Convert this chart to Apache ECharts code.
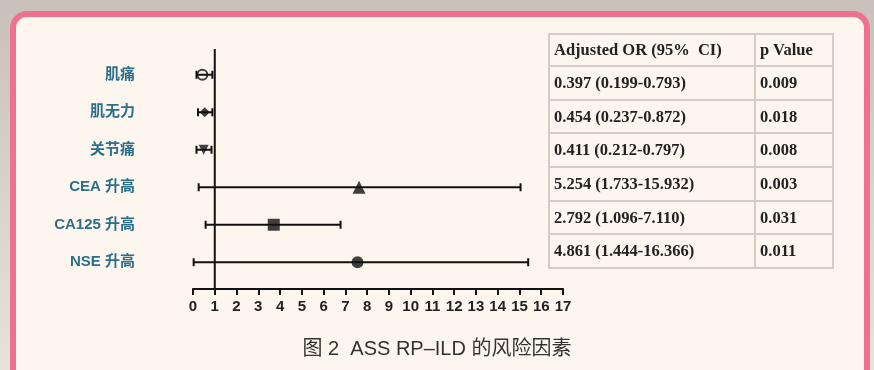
<!DOCTYPE html>
<html>
<head>
<meta charset="utf-8">
<script src="https://cdn.jsdelivr.net/npm/echarts@6/dist/echarts.min.js"></script>
<style>
  html, body { margin: 0; padding: 0; }
  body { width: 874px; height: 370px; overflow: hidden; position: relative;
         background: linear-gradient(180deg, #c9c0b9 0%, #d6cfc6 40%, #e8e2d8 100%); }
  #frame { position: absolute; left: 10px; top: 11px; width: 848px; height: 400px;
           border: 6px solid #ee7190; border-radius: 17px; background: #fdf6ee; }
  #chart { position: absolute; left: 0; top: 0; width: 874px; height: 370px; }
  #tbl { position: absolute; left: 548px; top: 33px; border-collapse: collapse;
         font-family: "Liberation Serif", "DejaVu Serif", serif; font-weight: bold;
         font-size: 16.5px; color: #222; }
  #tbl td { border: 2px solid #d3cdc6; padding: 0 0 0 4px; height: 30px; white-space: pre; }
  #tbl td.c1 { width: 200px; }
  #tbl td.c2 { width: 72px; }
</style>
</head>
<body>
<div id="frame"></div>
<div id="chart"></div>
<table id="tbl"></table>
<script>
// ---- data ----
const categories = ['肌痛', '肌无力', '关节痛', 'CEA 升高', 'CA125 升高', 'NSE 升高'];
const estimates = [0.43, 0.54, 0.49, 7.63, 3.71, 7.56];
const lowerCI   = [0.16, 0.23, 0.16, 0.26, 0.58, 0.03];
const upperCI   = [0.89, 0.89, 0.85, 15.05, 6.78, 15.40];
const markerSymbols = ['circle', 'diamond', 'triangle', 'triangle', 'rect', 'circle'];
const xTicks = [0, 17, 1];
const tableHeader = ['Adjusted OR (95%  CI)', 'p Value'];
const orText = ['0.397 (0.199-0.793)', '0.454 (0.237-0.872)', '0.411 (0.212-0.797)',
                '5.254 (1.733-15.932)', '2.792 (1.096-7.110)', '4.861 (1.444-16.366)'];
const pText = ['0.009', '0.018', '0.008', '0.003', '0.031', '0.011'];
const titleText = '图 2  ASS RP–ILD 的风险因素';

// ---- table ----
const tbl = document.getElementById('tbl');
function addRow(a, b, h) {
  const tr = document.createElement('tr');
  const td1 = document.createElement('td'); td1.className = 'c1'; td1.textContent = a;
  const td2 = document.createElement('td'); td2.className = 'c2'; td2.textContent = b;
  td1.style.height = td2.style.height = h + 'px';
  tr.appendChild(td1); tr.appendChild(td2); tbl.appendChild(tr);
}
addRow(tableHeader[0], tableHeader[1], 30);
orText.forEach((t, i) => addRow(t, pText[i], 31.7));

// ---- chart ----
const chart = echarts.init(document.getElementById('chart'));
const sizes = [10, 10, 10, 13, 12, 12];
const scatterData = estimates.map((v, i) => {
  const d = { value: [v, i], symbol: markerSymbols[i], symbolSize: sizes[i] };
  if (i === 0) d.itemStyle = { color: 'transparent', borderColor: '#111', borderWidth: 2 };
  if (i === 2) d.symbolRotate = 180;
  return d;
});
const barData = estimates.map((v, i) => [lowerCI[i], upperCI[i], i]);

chart.setOption({
  animation: false,
  title: {
    text: titleText, left: 'center', top: 334,
    textStyle: { fontFamily: 'Liberation Sans, Noto Sans CJK SC, sans-serif', fontSize: 20,
                 fontWeight: 'normal', color: '#333' }
  },
  grid: { left: 193, top: 56, width: 370, height: 225 },
  xAxis: {
    type: 'value', min: xTicks[0], max: xTicks[1], interval: xTicks[2], offset: 8,
    axisLine: { show: true, lineStyle: { color: '#111', width: 2 } },
    axisTick: { show: true, length: 6, lineStyle: { color: '#111', width: 2 } },
    splitLine: { show: false },
    axisLabel: { color: '#222', fontSize: 15, fontWeight: 'bold', margin: 10,
                 fontFamily: 'Liberation Sans, Arial, sans-serif' }
  },
  yAxis: {
    type: 'category', data: categories, inverse: true,
    axisLine: { show: false }, axisTick: { show: false }, splitLine: { show: false },
    axisLabel: { color: '#2c6f8b', fontSize: 15, fontWeight: 'bold', margin: 58,
                 fontFamily: 'Liberation Sans, Noto Sans CJK SC, sans-serif' }
  },
  series: [
    {
      type: 'custom',
      data: [[1]],
      renderItem: function (params, api) {
        const cs = params.coordSys;
        const x = api.coord([api.value(0), 0])[0];
        return { type: 'line', shape: { x1: x, y1: cs.y - 7, x2: x, y2: cs.y + cs.height + 8 },
                 style: { stroke: '#111', lineWidth: 2 } };
      },
      z: 1
    },
    {
      type: 'custom',
      data: barData,
      renderItem: function (params, api) {
        const p1 = api.coord([api.value(0), api.value(2)]);
        const p2 = api.coord([api.value(1), api.value(2)]);
        const h = 4;
        const st = { stroke: '#111', lineWidth: 2 };
        return { type: 'group', children: [
          { type: 'line', shape: { x1: p1[0], y1: p1[1], x2: p2[0], y2: p2[1] }, style: st },
          { type: 'line', shape: { x1: p1[0], y1: p1[1] - h, x2: p1[0], y2: p1[1] + h }, style: st },
          { type: 'line', shape: { x1: p2[0], y1: p2[1] - h, x2: p2[0], y2: p2[1] + h }, style: st }
        ]};
      },
      z: 2
    },
    {
      type: 'scatter',
      data: scatterData,
      itemStyle: { color: '#111' },
      z: 3
    }
  ]
});
</script>
</body>
</html>
